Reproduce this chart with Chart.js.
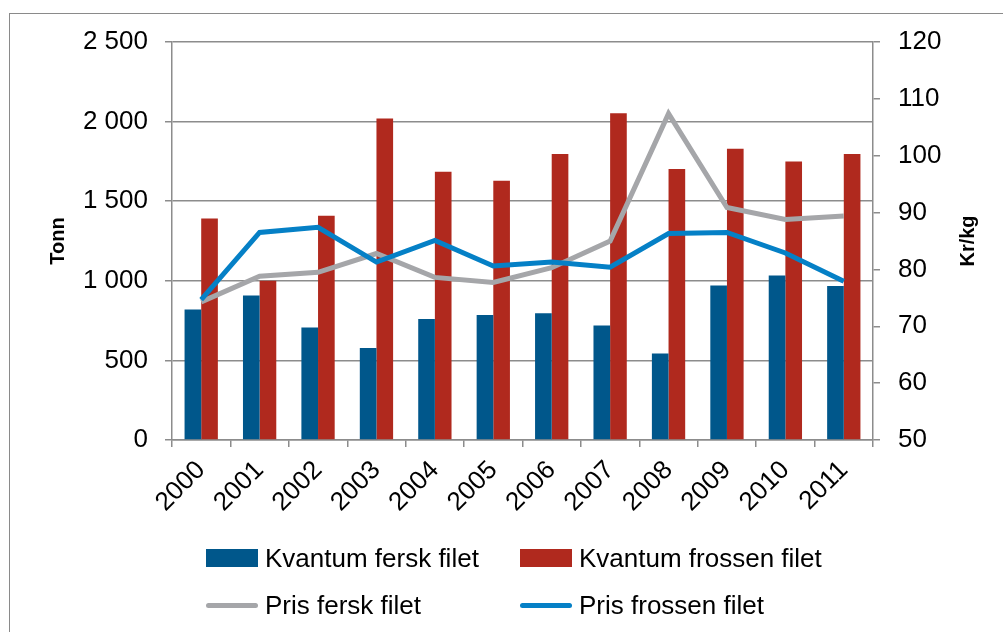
<!DOCTYPE html>
<html>
<head>
<meta charset="utf-8">
<script src="https://cdn.jsdelivr.net/npm/chart.js@4"></script>
<style>
html, body { margin: 0; padding: 0; background: #fff; }
#wrap { position: relative; width: 1003px; height: 632px; overflow: hidden; font-family: "Liberation Sans", Arial, sans-serif; }
#frame { position: absolute; left: 9px; top: 13px; width: 1100px; height: 700px; border-left: 1.5px solid #8a8a8a; border-top: 1.5px solid #8a8a8a; }
#myChart { position: absolute; left: 0; top: 0; }
.leg { position: absolute; font-size: 26px; color: #000; white-space: nowrap; line-height: 30px; }
.sw { position: absolute; }
</style>
</head>
<body>
<div id="wrap">
  <div id="frame"></div>
  <canvas id="myChart" width="1003" height="632"></canvas>
  <div id="legend"></div>
</div>
<script>
const years = ['2000', '2001', '2002', '2003', '2004', '2005', '2006', '2007', '2008', '2009', '2010', '2011'];
const kvantumFersk = [819, 907, 706, 578, 760, 785, 796, 720, 543, 971, 1034, 967];
const kvantumFrossen = [1391, 1000, 1408, 2020, 1685, 1629, 1796, 2053, 1702, 1830, 1750, 1796];
const prisFersk = [74.3, 78.8, 79.5, 82.8, 78.6, 77.7, 80.3, 85.0, 107.4, 90.9, 88.8, 89.4];
const prisFrossen = [74.7, 86.5, 87.4, 81.3, 85.1, 80.6, 81.3, 80.4, 86.3, 86.5, 82.9, 77.9];

const gridColor = '#8c8c8c';
const tickFont = { family: '"Liberation Sans", Arial, sans-serif', size: 26 };
const titleFont = { family: '"Liberation Sans", Arial, sans-serif', size: 20, weight: 'bold' };

function spaced(v) {
    return String(v).replace(/\B(?=(\d{3})+(?!\d))/g, ' ');
}

// right axis title reads bottom-to-top like the left one
const rightTitle = {
    id: 'rightTitle',
    afterDraw(chart) {
        const c = chart.ctx;
        const area = chart.chartArea;
        c.save();
        c.translate(968, (area.top + area.bottom) / 2);
        c.rotate(-Math.PI / 2);
        c.font = 'bold 20px "Liberation Sans", Arial, sans-serif';
        c.fillStyle = '#000';
        c.textAlign = 'center';
        c.textBaseline = 'middle';
        c.fillText('Kr/kg', 0, 0);
        c.restore();
    }
};

const ctx = document.getElementById('myChart');

const myChart = new Chart(ctx, {
    type: 'bar',
    data: {
        labels: years,
        datasets: [
            {
                label: 'Kvantum fersk filet',
                data: kvantumFersk,
                backgroundColor: '#00578b',
                yAxisID: 'y',
                order: 2,
                categoryPercentage: 0.57,
                barPercentage: 1.0
            },
            {
                label: 'Kvantum frossen filet',
                data: kvantumFrossen,
                backgroundColor: '#b0291e',
                yAxisID: 'y',
                order: 2,
                categoryPercentage: 0.57,
                barPercentage: 1.0
            },
            {
                type: 'line',
                label: 'Pris fersk filet',
                data: prisFersk,
                borderColor: '#a5a6a9',
                backgroundColor: '#a5a6a9',
                borderWidth: 5,
                pointRadius: 0,
                tension: 0,
                yAxisID: 'y1',
                order: 1
            },
            {
                type: 'line',
                label: 'Pris frossen filet',
                data: prisFrossen,
                borderColor: '#0580c6',
                backgroundColor: '#0580c6',
                borderWidth: 5,
                pointRadius: 0,
                tension: 0,
                yAxisID: 'y1',
                order: 0
            }
        ]
    },
    options: {
        responsive: false,
        animation: false,
        layout: { padding: { left: 0, right: 0, top: 42, bottom: 0 } },
        plugins: {
            legend: { display: false },
            tooltip: { enabled: false }
        },
        scales: {
            x: {
                offset: true,
                grid: { drawOnChartArea: false, drawTicks: true, tickLength: 7, color: gridColor, lineWidth: 1.5, offset: true },
                border: { color: gridColor, width: 1.5 },
                ticks: { color: '#000', font: tickFont, minRotation: 45, maxRotation: 45, padding: 8 },
                afterFit: function (scale) { scale.height = 192; }
            },
            y: {
                position: 'left',
                min: 0,
                max: 2500,
                grid: { color: gridColor, lineWidth: 1.5, tickLength: 7 },
                border: { color: gridColor, width: 1.5 },
                ticks: { stepSize: 500, color: '#000', font: tickFont, padding: 17, callback: function (v) { return spaced(v); } },
                title: { display: true, text: 'Tonn', color: '#000', font: titleFont, padding: { top: 46, bottom: 0 } },
                afterFit: function (scale) { scale.width = 172; }
            },
            y1: {
                position: 'right',
                min: 50,
                max: 120,
                grid: { drawOnChartArea: false, color: gridColor, lineWidth: 1.5, tickLength: 7 },
                border: { color: gridColor, width: 1.5 },
                ticks: { stepSize: 10, color: '#000', font: tickFont, padding: 18 },
                afterFit: function (scale) { scale.width = 130; }
            }
        }
    },
    plugins: [rightTitle]
});

// legend, 2 x 2 like the original
const legendEl = document.getElementById('legend');
const legendPos = [[206, 558], [520, 558], [206, 605], [520, 605]];
myChart.data.datasets.forEach(function (ds, i) {
    const p = legendPos[i];
    const sw = document.createElement('div');
    sw.className = 'sw';
    const isLine = ds.type === 'line';
    const h = isLine ? 5 : 18;
    sw.style.left = p[0] + 'px';
    sw.style.top = (p[1] - h / 2) + 'px';
    sw.style.width = '52px';
    sw.style.height = h + 'px';
    sw.style.background = ds.backgroundColor;
    if (isLine) sw.style.borderRadius = '3px';
    legendEl.appendChild(sw);
    const t = document.createElement('div');
    t.className = 'leg';
    t.style.left = (p[0] + 59) + 'px';
    t.style.top = (p[1] - 15) + 'px';
    t.textContent = ds.label;
    legendEl.appendChild(t);
});
</script>
</body>
</html>
